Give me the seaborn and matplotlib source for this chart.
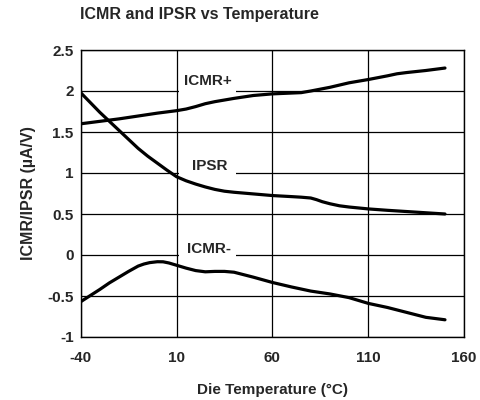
import matplotlib
matplotlib.use("Agg")
import matplotlib.pyplot as plt
from matplotlib.patches import Rectangle
import numpy as np
import pandas as pd
import seaborn as sns

# Die temperature (°C) and measured sensitivities (µA/V)
temp_icmr_pos = [-40, -30, -20, -10, 0, 10, 15, 20, 25, 30, 40, 50, 60, 70, 75, 80,
                 90, 100, 110, 120, 125, 130, 140, 150]
icmr_pos = [1.60, 1.63, 1.66, 1.695, 1.73, 1.76, 1.78, 1.81, 1.845, 1.87, 1.91, 1.945,
            1.965, 1.975, 1.98, 2.00, 2.045, 2.10, 2.14, 2.185, 2.21, 2.225, 2.25, 2.28]

temp_ipsr = [-40, -35, -30, -25, -20, -15, -10, -5, 0, 5, 10, 15, 20, 25, 30, 35, 40,
             50, 60, 70, 75, 80, 83, 86, 90, 95, 100, 110, 120, 130, 140, 150]
ipsr = [1.98, 1.86, 1.74, 1.63, 1.52, 1.41, 1.30, 1.205, 1.12, 1.035, 0.955, 0.905,
        0.865, 0.83, 0.80, 0.778, 0.765, 0.745, 0.725, 0.712, 0.705, 0.695, 0.675,
        0.65, 0.625, 0.60, 0.585, 0.562, 0.545, 0.53, 0.515, 0.50]

temp_icmr_neg = [-40, -35, -30, -25, -20, -15, -10, -7, -4, 0, 3, 6, 10, 15, 20, 25,
                 30, 35, 40, 50, 60, 70, 80, 90, 100, 110, 120, 130, 140, 150]
icmr_neg = [-0.57, -0.495, -0.42, -0.34, -0.27, -0.20, -0.135, -0.11, -0.093, -0.082,
            -0.083, -0.097, -0.125, -0.16, -0.19, -0.205, -0.20, -0.20, -0.21, -0.27,
            -0.335, -0.39, -0.44, -0.475, -0.52, -0.59, -0.64, -0.70, -0.76, -0.79]

x_ticks = [-40, 10, 60, 110, 160]
y_ticks = [-1, -0.5, 0, 0.5, 1, 1.5, 2, 2.5]
y_tick_labels = ["-1", "-0.5", "0", "0.5", "1", "1.5", "2", "2.5"]

sns.set_style("white")
plt.rcParams["font.family"] = ["Liberation Sans", "DejaVu Sans"]
plt.rcParams["font.weight"] = "bold"
plt.rcParams["axes.unicode_minus"] = False

fig = plt.figure(figsize=(4.8, 4.0), dpi=100)
ax = fig.add_axes([0.168, 0.1575, 0.799, 0.7175])

series = [
    ("ICMR+", temp_icmr_pos, icmr_pos),
    ("IPSR", temp_ipsr, ipsr),
    ("ICMR-", temp_icmr_neg, icmr_neg),
]
for name, t, v in series:
    df = pd.DataFrame({"temp": t, "value": v})
    sns.lineplot(data=df, x="temp", y="value", ax=ax, color="black",
                 linewidth=2.3, estimator=None, sort=True, zorder=3)

ax.set_xlim(-40, 160)
ax.set_ylim(-1, 2.5)
ax.set_xticks(x_ticks)
ax.set_yticks(y_ticks)
ax.set_yticklabels(y_tick_labels)
ax.tick_params(axis="both", length=0, labelsize=11)
ax.tick_params(axis="x", pad=10)
ax.tick_params(axis="y", pad=5)
for lbl in ax.get_xticklabels() + ax.get_yticklabels():
    lbl.set_fontweight("bold")

ax.grid(True, color="black", linewidth=0.9)
ax.set_axisbelow(True)
for sp in ax.spines.values():
    sp.set_color("black")
    sp.set_linewidth(1.0)

ax.set_xlabel("Die Temperature (°C)", fontsize=11, fontweight="bold", labelpad=13)
ax.set_ylabel("ICMR/IPSR (µA/V)", fontsize=11.5, fontweight="bold", labelpad=8)

# Curve labels sit on a white patch that breaks the gridline under them
curve_labels = [("ICMR+", 14.0, 2.0, 2.07), ("IPSR", 18.2, 1.0, 1.035), ("ICMR-", 15.6, 0.0, 0.025)]
for text, tx, grid_y, ty in curve_labels:
    ax.add_patch(Rectangle((11.2, grid_y - 0.04), 41.2 - 11.2, 0.26,
                           facecolor="white", edgecolor="none", zorder=1))
    ax.text(tx, ty, text, fontsize=11, fontweight="bold", ha="left",
            va="baseline", zorder=4)

fig.text(80 / 480, 1 - 14 / 400, "ICMR and IPSR vs Temperature",
         fontsize=11.5, fontweight="bold", ha="left", va="center")

fig.savefig("out.png", dpi=100)
